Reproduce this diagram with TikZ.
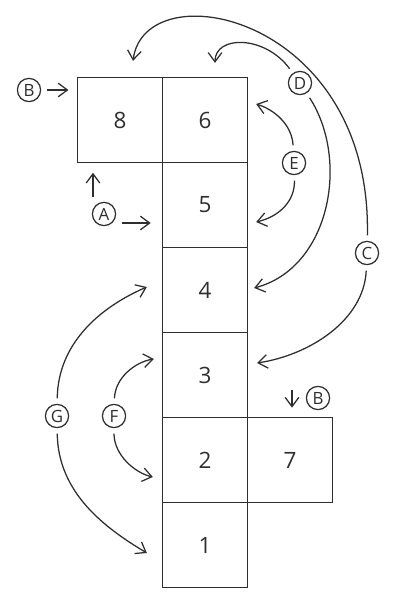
\documentclass[tikz,border=0pt]{standalone}
\usepackage{fontspec}
\setmainfont{Open Sans}
\usetikzlibrary{arrows.meta}
\definecolor{ink}{HTML}{2E2E2E}
\tikzstyle{cell} = [draw=ink, text=ink, minimum size=2.125cm, inner sep=0pt, font=\fontsize{16}{19}\selectfont]
\tikzstyle{tag} = [draw=ink, text=ink, circle, minimum size=0.58cm, inner sep=0pt, outer sep=0.15cm, font=\fontsize{12}{14}\selectfont]
\tikzstyle{arrow} = [draw=ink, -{Straight Barb[length=2.3mm,width=3.4mm]}]

\begin{document}
\begin{tikzpicture}[x=0.025cm, y=0.025cm, line width=0.9pt]
	\useasboundingbox (0,0) rectangle (400,600);
	% the unfolded cells
	\node[cell] (c1) at (205,55) {1};
	\node[cell] (c2) at (205,140) {2};
	\node[cell] (c3) at (205,225) {3};
	\node[cell] (c4) at (205,310) {4};
	\node[cell] (c5) at (205,395) {5};
	\node[cell] (c6) at (205,480) {6};
	\node[cell] (c8) at (120,480) {8};
	\node[cell] (c7) at (290,140) {7};
	% letter tags
	\node[tag] (tA) at (104,386) {A};
	\node[tag] (tBl) at (29,510) {B};
	\node[tag] (tBr) at (318,202) {B};
	\node[tag] (tC) at (367,347) {C};
	\node[tag] (tD) at (300,517) {D};
	\node[tag] (tE) at (294,437) {E};
	\node[tag] (tF) at (114,184) {F};
	\node[tag] (tG) at (57,184) {G};
	% straight arrows
	\coordinate (Aup) at ([shift={(-11,17)}]tA.center);
	\coordinate (Aright) at ([shift={(18,-9)}]tA.center);
	\coordinate (Bdown) at ([shift={(-26,8)}]tBr.center);
	\draw[arrow, shorten >=0.21cm] (tBl) -- (tBl -| c8.west);
	\draw[arrow, shorten >=0.24cm] (Aup) -- (Aup |- c8.south);
	\draw[arrow, shorten >=0.28cm] (Aright) -- (Aright -| c5.west);
	\draw[arrow, shorten >=0.23cm] (Bdown) -- (Bdown |- c7.north);
	% curved arrows
	\draw[arrow] (tC) .. controls (372,585) and (145,630) .. ([shift={(13,16)}]c8.north);
	\draw[arrow] (tC) .. controls (364,280) and (310,245) .. ([shift={(9,12)}]c3.east);
	\draw[arrow] (tD) .. controls (265,565) and (215,565) .. ([shift={(10,14)}]c6.north);
	\draw[arrow] (tD) .. controls (350,440) and (330,332) .. ([shift={(6,2)}]c4.east);
	\draw[arrow] (tE) .. controls (292,475) and (275,490) .. ([shift={(8,16)}]c6.east);
	\draw[arrow] (tE) .. controls (295,398) and (278,383) .. ([shift={(8,-17)}]c5.east);
	\draw[arrow] (tF) .. controls (115,222) and (135,238) .. ([shift={(-8,16)}]c3.west);
	\draw[arrow] (tF) .. controls (114,145) and (135,127) .. ([shift={(-9,-17)}]c2.west);
	\draw[arrow] (tG) .. controls (58,260) and (105,295) .. ([shift={(-15,3)}]c4.west);
	\draw[arrow] (tG) .. controls (58,107) and (105,72) .. ([shift={(-15,-8)}]c1.west);
\end{tikzpicture}
\end{document}
